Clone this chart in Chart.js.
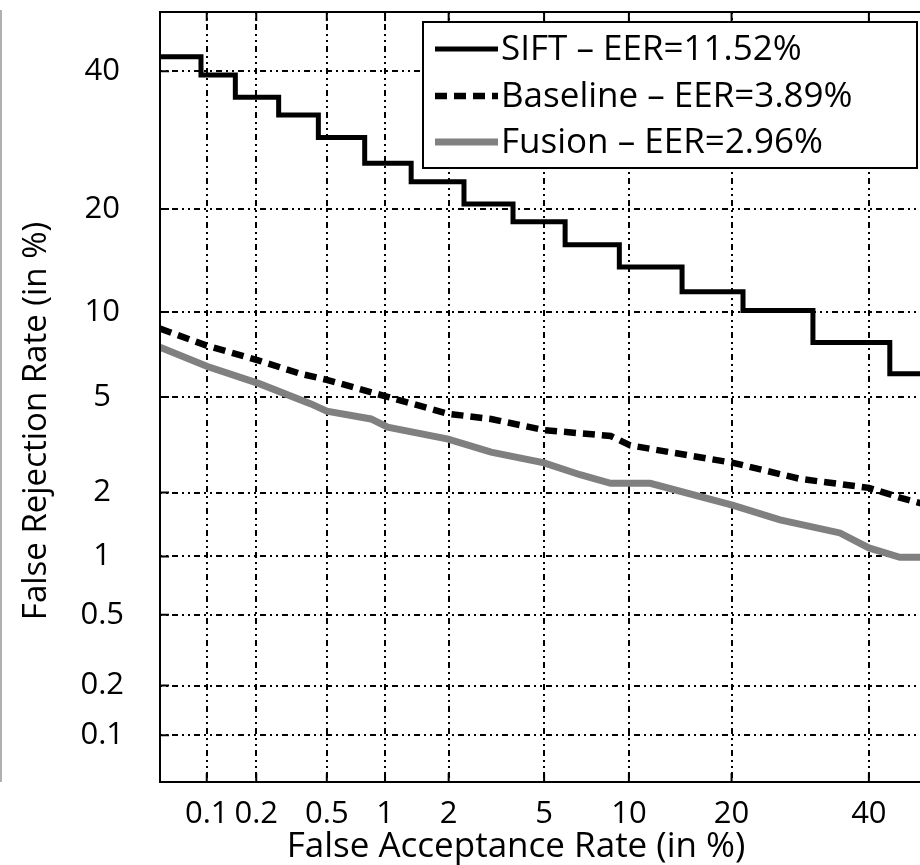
<!DOCTYPE html>
<html>
<head>
<meta charset="utf-8">
<script src="https://cdn.jsdelivr.net/npm/chart.js@4/dist/chart.umd.min.js"></script>
<style>
  body { margin: 0; background: #fff; }
  #wrap { position: relative; width: 920px; height: 865px; overflow: hidden; }
  #edge { position: absolute; left: 0; top: 10px; width: 2px; height: 772px; background: #b0b0b0; }
</style>
</head>
<body>
<div id="wrap">
  <div id="edge"></div>
  <canvas id="myChart" width="940" height="865"></canvas>
</div>
<script>
// tick labels (in %)
var tickLabels = [0.1, 0.2, 0.5, 1, 2, 5, 10, 20, 40];

// SIFT (stepped curve), values in %
var siftFar = [0.05, 0.092, 0.15, 0.27, 0.45, 0.79, 1.34, 2.34, 3.77, 6.0, 9.3, 14.6, 21.4, 31.1, 43.5, 50];
var siftFrr = [42.4, 39.4, 35.8, 33.0, 29.6, 25.9, 23.4, 20.6, 18.5, 16.0, 13.8, 11.6, 10.1, 7.9, 6.1, 6.1];

// Baseline
var baseFar = [0.05, 0.1, 0.21, 0.36, 0.5, 1.03, 1.99, 3.06, 5.0, 8.7, 10.1, 20.2, 29.2, 40.0, 45.2, 50];
var baseFrr = [8.8, 7.7, 6.8, 6.1, 5.8, 5.0, 4.3, 4.1, 3.7, 3.5, 3.2, 2.7, 2.3, 2.1, 1.9, 1.75];

// Fusion
var fusionFar = [0.05, 0.1, 0.21, 0.41, 0.5, 0.85, 1.03, 1.99, 3.06, 5.0, 6.8, 8.7, 11.7, 20.2, 26.3, 35.3, 40.0, 45.2, 50];
var fusionFrr = [7.6, 6.5, 5.6, 4.7, 4.4, 4.1, 3.8, 3.4, 3.0, 2.7, 2.4, 2.2, 2.2, 1.75, 1.5, 1.3, 1.1, 0.99, 0.99];

var seriesNames = ['SIFT \u2013 EER=11.52%', 'Baseline \u2013 EER=3.89%', 'Fusion \u2013 EER=2.96%'];
var xTitle = 'False Acceptance Rate (in %)';
var yTitle = 'False Rejection Rate (in %)';

// inverse normal cdf (Acklam), DET plots use normal deviate axes
function probit(p) {
  var a = [-3.969683028665376e+01, 2.209460984245205e+02, -2.759285104469687e+02, 1.383577518672690e+02, -3.066479806614716e+01, 2.506628277459239e+00];
  var b = [-5.447609879822406e+01, 1.615858368580409e+02, -1.556989798598866e+02, 6.680131188771972e+01, -1.328068155288572e+01];
  var c = [-7.784894002430293e-03, -3.223964580411365e-01, -2.400758277161838e+00, -2.549732539343734e+00, 4.374664141464968e+00, 2.938163982698783e+00];
  var d = [7.784695709041462e-03, 3.224671290700398e-01, 2.445134137142996e+00, 3.754408661907416e+00];
  var pl = 0.02425, q, r;
  if (p < pl) {
    q = Math.sqrt(-2 * Math.log(p));
    return (((((c[0]*q+c[1])*q+c[2])*q+c[3])*q+c[4])*q+c[5]) / ((((d[0]*q+d[1])*q+d[2])*q+d[3])*q+1);
  }
  if (p <= 1 - pl) {
    q = p - 0.5; r = q*q;
    return (((((a[0]*r+a[1])*r+a[2])*r+a[3])*r+a[4])*r+a[5])*q / (((((b[0]*r+b[1])*r+b[2])*r+b[3])*r+b[4])*r+1);
  }
  q = Math.sqrt(-2 * Math.log(1 - p));
  return -(((((c[0]*q+c[1])*q+c[2])*q+c[3])*q+c[4])*q+c[5]) / ((((d[0]*q+d[1])*q+d[2])*q+d[3])*q+1);
}

function toPoints(far, frr) {
  return far.map(function (v, i) {
    return { x: probit(v / 100), y: probit(frr[i] / 100) };
  });
}

var axisMin = probit(0.0005);
var axisMax = 0;
var FONT = '"Open Sans", "DejaVu Sans", sans-serif';
var gridDash = [2, 4, 2, 4, 6, 4];

function setTicks(scale) {
  scale.ticks = tickLabels.map(function (t) { return { value: probit(t / 100) }; });
}
function labelFor(value, index) {
  return String(tickLabels[index]);
}

// frame, inner tick marks, axis titles and boxed legend
var decorations = {
  id: 'decorations',
  afterDraw: function (chart) {
    var ctx = chart.ctx, area = chart.chartArea;
    var xs = chart.scales.x, ys = chart.scales.y;
    ctx.save();
    ctx.strokeStyle = '#000';
    ctx.lineWidth = 2;
    ctx.strokeRect(area.left, area.top, area.right - area.left, area.bottom - area.top);
    ctx.beginPath();
    xs.ticks.forEach(function (t) {
      var px = xs.getPixelForValue(t.value);
      ctx.moveTo(px, area.bottom); ctx.lineTo(px, area.bottom - 9);
      ctx.moveTo(px, area.top); ctx.lineTo(px, area.top + 9);
    });
    ys.ticks.forEach(function (t) {
      var py = ys.getPixelForValue(t.value);
      ctx.moveTo(area.left, py); ctx.lineTo(area.left + 9, py);
    });
    ctx.stroke();

    // axis titles
    ctx.fillStyle = '#000';
    ctx.textAlign = 'center';
    ctx.textBaseline = 'middle';
    ctx.font = '35px ' + FONT;
    ctx.fillText(xTitle, 516, 847);
    ctx.save();
    ctx.translate(37, 421);
    ctx.rotate(-Math.PI / 2);
    ctx.font = '33px ' + FONT;
    ctx.fillText(yTitle, 0, 0);
    ctx.restore();

    // legend box
    var bx = 423, by = 22, bw = 494, bh = 146;
    ctx.fillStyle = '#fff';
    ctx.fillRect(bx, by, bw, bh);
    ctx.lineWidth = 2;
    ctx.strokeRect(bx, by, bw, bh);
    var rows = [49, 96, 142];
    chart.data.datasets.forEach(function (ds, i) {
      ctx.save();
      ctx.strokeStyle = ds.borderColor;
      ctx.lineWidth = ds.borderWidth;
      ctx.setLineDash(ds.borderDash || []);
      ctx.beginPath();
      ctx.moveTo(435, rows[i]);
      ctx.lineTo(498, rows[i]);
      ctx.stroke();
      ctx.restore();
      ctx.fillStyle = '#000';
      ctx.font = '35px ' + FONT;
      ctx.textBaseline = 'middle';
      ctx.textAlign = 'left';
      ctx.fillText(ds.label, 501, rows[i] + 1);
    });
    ctx.restore();
  }
};

var ctx = document.getElementById('myChart').getContext('2d');
var chart = new Chart(ctx, {
  type: 'scatter',
  data: {
    datasets: [{
      label: seriesNames[0],
      data: toPoints(siftFar, siftFrr),
      showLine: true,
      stepped: 'before',
      borderColor: '#000',
      borderWidth: 5,
      pointRadius: 0
    }, {
      label: seriesNames[1],
      data: toPoints(baseFar, baseFrr),
      showLine: true,
      borderColor: '#000',
      borderWidth: 6.5,
      borderDash: [12, 7],
      pointRadius: 0
    }, {
      label: seriesNames[2],
      data: toPoints(fusionFar, fusionFrr),
      showLine: true,
      borderColor: '#808080',
      borderWidth: 7,
      pointRadius: 0
    }]
  },
  options: {
    responsive: false,
    devicePixelRatio: 1,
    animation: false,
    layout: { padding: { top: 12, right: 12, left: 0, bottom: 0 } },
    plugins: { legend: { display: false }, tooltip: { enabled: false } },
    scales: {
      x: {
        type: 'linear',
        min: axisMin,
        max: axisMax,
        afterBuildTicks: setTicks,
        afterFit: function (s) { s.height = 83; s.paddingLeft = 0; s.paddingRight = 0; },
        grid: { color: '#000', lineWidth: 2, drawTicks: false },
        border: { display: false, dash: gridDash },
        ticks: {
          autoSkip: false, maxRotation: 0, padding: 14, color: '#000',
          font: { family: FONT, size: 31 },
          callback: labelFor
        }
      },
      y: {
        type: 'linear',
        min: axisMin,
        max: axisMax,
        afterBuildTicks: setTicks,
        afterFit: function (s) { s.width = 160; s.paddingTop = 0; s.paddingBottom = 0; },
        grid: { color: '#000', lineWidth: 2, drawTicks: false },
        border: { display: false, dash: gridDash },
        ticks: {
          autoSkip: false, padding: 36, crossAlign: 'center', color: '#000',
          font: { family: FONT, size: 31 },
          callback: labelFor
        }
      }
    }
  },
  plugins: [decorations]
});
</script>
</body>
</html>
